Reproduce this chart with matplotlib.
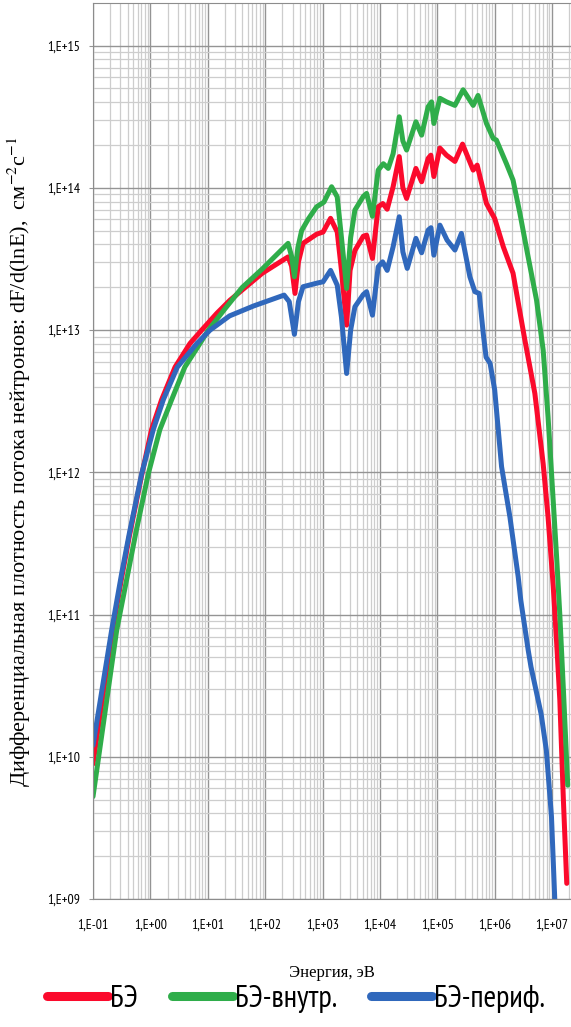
import matplotlib
matplotlib.use('Agg')
import matplotlib.pyplot as plt
from matplotlib.lines import Line2D
from matplotlib.ticker import LogLocator, FuncFormatter, NullFormatter
import numpy as np

plt.rcParams['mathtext.fontset'] = 'stix'

# значения: lg(E, эВ) и lg(dF/d(lnE))
lgE_be = [-1.0, -0.675, -0.50, -0.367, -0.152, 0.02, 0.195, 0.43, 0.69, 0.894, 1.155, 1.386, 1.95,
          2.40, 2.46, 2.52, 2.58, 2.66, 2.90, 3.01, 3.14, 3.256, 3.33, 3.42, 3.48, 3.564, 3.71,
          3.768, 3.87, 3.97, 4.05, 4.127, 4.23, 4.337, 4.40, 4.465, 4.627, 4.727, 4.84, 4.888,
          4.94, 5.045, 5.16, 5.307, 5.44, 5.625, 5.695, 5.857, 6.0, 6.15, 6.32, 6.526, 6.70,
          6.845, 6.93, 7.02, 7.08, 7.135, 7.197, 7.256]
lgF_be = [9.95, 10.85, 11.26, 11.55, 11.98, 12.30, 12.51, 12.74, 12.906, 13.0, 13.117, 13.21, 13.40,
          13.515, 13.45, 13.258, 13.48, 13.61, 13.675, 13.69, 13.786, 13.69, 13.42, 13.035, 13.42, 13.56, 13.66,
          13.668, 13.504, 13.867, 13.89, 13.85, 14.008, 14.22, 14.0, 13.926, 14.137, 14.043, 14.207, 14.23,
          14.08, 14.28, 14.23, 14.186, 14.308, 14.125, 14.16, 13.89, 13.785, 13.586, 13.40, 12.93, 12.555,
          12.06, 11.687, 11.2, 10.8, 10.40, 9.70, 9.11]

lgE_in = [-1.0, -0.587, -0.392, -0.256, -0.036, 0.165, 0.37, 0.60, 0.864, 1.01, 1.3, 1.6, 1.95,
          2.2, 2.40, 2.46, 2.51, 2.57, 2.636, 2.75, 2.897, 3.024, 3.158, 3.256, 3.33, 3.42, 3.49,
          3.564, 3.71, 3.768, 3.87, 3.97, 4.06, 4.145, 4.23, 4.337, 4.40, 4.465, 4.627, 4.727,
          4.84, 4.90, 4.94, 5.045, 5.16, 5.307, 5.45, 5.625, 5.71, 5.857, 5.974, 6.03, 6.205,
          6.32, 6.44, 6.56, 6.73, 6.845, 6.93, 7.02, 7.08, 7.135, 7.20, 7.273]
lgF_in = [9.72, 10.89, 11.29, 11.57, 11.99, 12.30, 12.51, 12.74, 12.906, 13.0, 13.15, 13.3, 13.43,
          13.53, 13.61, 13.52, 13.375, 13.58, 13.70, 13.78, 13.867, 13.90, 14.008, 13.937, 13.65, 13.293, 13.65,
          13.844, 13.94, 13.961, 13.80, 14.125, 14.17, 14.137, 14.24, 14.50, 14.33, 14.266, 14.465, 14.371,
          14.57, 14.605, 14.453, 14.63, 14.605, 14.58, 14.69, 14.58, 14.65, 14.453, 14.348, 14.336, 14.17,
          14.055, 13.82, 13.563, 13.21, 12.86, 12.39, 11.80, 11.40, 11.0, 10.45, 9.80]

lgE_per = [-1.0, -0.675, -0.50, -0.367, -0.152, 0.05, 0.225, 0.47, 0.81, 1.04, 1.38, 1.8, 2.33,
           2.42, 2.51, 2.58, 2.66, 2.9, 3.01, 3.14, 3.256, 3.33, 3.42, 3.49, 3.564, 3.71, 3.768,
           3.87, 3.97, 4.047, 4.127, 4.23, 4.337, 4.40, 4.476, 4.627, 4.727, 4.84, 4.89, 4.94,
           5.045, 5.17, 5.307, 5.42, 5.568, 5.655, 5.73, 5.80, 5.85, 5.92, 6.0, 6.12, 6.265,
           6.41, 6.455, 6.584, 6.633, 6.81, 6.90, 6.99, 7.05]
lgF_per = [10.08, 10.89, 11.29, 11.57, 11.99, 12.30, 12.51, 12.74, 12.906, 13.0, 13.1, 13.17, 13.246,
           13.20, 12.97, 13.2, 13.305, 13.33, 13.34, 13.42, 13.316, 13.09, 12.695, 13.0, 13.164, 13.25, 13.27,
           13.105, 13.445, 13.48, 13.42, 13.586, 13.797, 13.55, 13.434, 13.645, 13.544, 13.703, 13.72, 13.527,
           13.738, 13.633, 13.563, 13.68, 13.375, 13.27, 13.258, 12.98, 12.81, 12.766, 12.58, 12.04, 11.687,
           11.265, 11.10, 10.75, 10.632, 10.30, 10.046, 9.577, 8.97]

names = ['БЭ', 'БЭ-внутр.', 'БЭ-периф.']
colors = ['#fb0a2c', '#2fad4a', '#3068bc']

fig = plt.figure(figsize=(5.71, 10.27), dpi=100)
ax = fig.add_axes([93 / 571, 1 - 899 / 1027, 1 - 93 / 571, (899 - 3) / 1027])

series = [(lgE_be, lgF_be), (lgE_in, lgF_in), (lgE_per, lgF_per)]
for (lx, ly), c in zip(series, colors):
    ax.plot(10 ** np.array(lx), 10 ** np.array(ly), color=c, lw=3.6,
            solid_joinstyle='round', solid_capstyle='round')

ax.set_xscale('log')
ax.set_yscale('log')
ax.set_xlim(0.1, 10 ** 7.33)
ax.set_ylim(1e9, 10 ** 15.30)

ax.xaxis.set_major_locator(LogLocator(base=10, numticks=20))
ax.yaxis.set_major_locator(LogLocator(base=10, numticks=20))
ax.xaxis.set_minor_locator(LogLocator(base=10, subs=np.arange(2, 10), numticks=100))
ax.yaxis.set_minor_locator(LogLocator(base=10, subs=np.arange(2, 10), numticks=100))
fmt = FuncFormatter(lambda v, p: '1,E%+03d' % int(round(np.log10(v))))
ax.xaxis.set_major_formatter(fmt)
ax.yaxis.set_major_formatter(fmt)
ax.xaxis.set_minor_formatter(NullFormatter())
ax.yaxis.set_minor_formatter(NullFormatter())

ax.grid(which='major', color='#949494', lw=1.0)
ax.grid(which='minor', color='#cdcdcd', lw=0.9)
ax.set_axisbelow(True)

tick_font = ['PT Sans Narrow', 'DejaVu Sans']
ax.tick_params(axis='x', which='both', length=0, pad=14)
ax.tick_params(axis='y', which='major', length=3, pad=6, color='#949494')
ax.tick_params(axis='y', which='minor', length=0)
for lab in ax.get_xticklabels() + ax.get_yticklabels():
    lab.set_family(tick_font)
    lab.set_fontsize(10)

for s in ['left', 'bottom', 'top']:
    ax.spines[s].set_color('#8c8c8c')
ax.spines['right'].set_visible(False)

ax.set_xlabel('Энергия, эВ', family=['Liberation Serif', 'DejaVu Serif'], fontsize=12)
ax.xaxis.set_label_coords(0.5, -0.074)
ax.set_ylabel('Дифференциальная плотность потока нейтронов: dF/d(lnE),  см$^{-2}$с$^{-1}$',
              family=['Liberation Serif', 'DejaVu Serif'], fontsize=16)
ax.yaxis.set_label_coords(-(93 - 33) / 478, (899 - 462) / 896)

handles = [Line2D([], [], color=c, lw=6.5, solid_capstyle='round') for c in colors]
fig.legend(handles, names, loc='center', bbox_to_anchor=(296 / 571, 1 - 999 / 1027),
           ncol=3, frameon=False, handlelength=2.0, handletextpad=0.07, columnspacing=1.1,
           borderpad=0.0, prop={'family': tick_font, 'size': 22})

fig.savefig('out.png', dpi=100)
